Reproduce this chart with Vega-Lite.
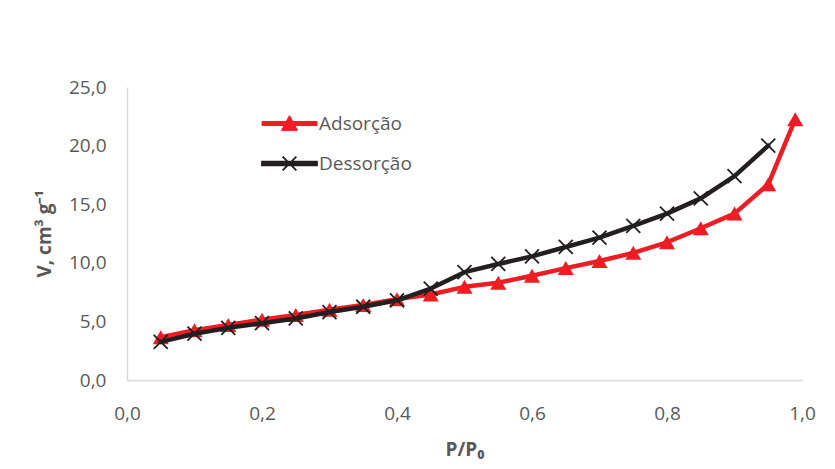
{
  "$schema": "https://vega.github.io/schema/vega-lite/v6.json",
  "width": 675,
  "height": 293,
  "autosize": {"type": "none"},
  "padding": {"left": 127, "top": 87, "right": 33, "bottom": 89},
  "background": "white",
  "config": {
    "view": {"stroke": null},
    "font": "Open Sans"
  },
  "data": {
    "values": [
      {"P": 0.05, "V": 3.65, "serie": "Adsorção"},
      {"P": 0.10, "V": 4.25, "serie": "Adsorção"},
      {"P": 0.15, "V": 4.7, "serie": "Adsorção"},
      {"P": 0.20, "V": 5.15, "serie": "Adsorção"},
      {"P": 0.25, "V": 5.55, "serie": "Adsorção"},
      {"P": 0.30, "V": 6.0, "serie": "Adsorção"},
      {"P": 0.35, "V": 6.4, "serie": "Adsorção"},
      {"P": 0.40, "V": 6.9, "serie": "Adsorção"},
      {"P": 0.45, "V": 7.3, "serie": "Adsorção"},
      {"P": 0.50, "V": 7.95, "serie": "Adsorção"},
      {"P": 0.55, "V": 8.3, "serie": "Adsorção"},
      {"P": 0.60, "V": 8.9, "serie": "Adsorção"},
      {"P": 0.65, "V": 9.55, "serie": "Adsorção"},
      {"P": 0.70, "V": 10.15, "serie": "Adsorção"},
      {"P": 0.75, "V": 10.85, "serie": "Adsorção"},
      {"P": 0.80, "V": 11.75, "serie": "Adsorção"},
      {"P": 0.85, "V": 12.95, "serie": "Adsorção"},
      {"P": 0.90, "V": 14.2, "serie": "Adsorção"},
      {"P": 0.95, "V": 16.7, "serie": "Adsorção"},
      {"P": 0.99, "V": 22.25, "serie": "Adsorção"},
      {"P": 0.05, "V": 3.25, "serie": "Dessorção"},
      {"P": 0.10, "V": 3.95, "serie": "Dessorção"},
      {"P": 0.15, "V": 4.45, "serie": "Dessorção"},
      {"P": 0.20, "V": 4.85, "serie": "Dessorção"},
      {"P": 0.25, "V": 5.25, "serie": "Dessorção"},
      {"P": 0.30, "V": 5.8, "serie": "Dessorção"},
      {"P": 0.35, "V": 6.25, "serie": "Dessorção"},
      {"P": 0.40, "V": 6.8, "serie": "Dessorção"},
      {"P": 0.45, "V": 7.8, "serie": "Dessorção"},
      {"P": 0.50, "V": 9.2, "serie": "Dessorção"},
      {"P": 0.55, "V": 9.9, "serie": "Dessorção"},
      {"P": 0.60, "V": 10.55, "serie": "Dessorção"},
      {"P": 0.65, "V": 11.35, "serie": "Dessorção"},
      {"P": 0.70, "V": 12.15, "serie": "Dessorção"},
      {"P": 0.75, "V": 13.15, "serie": "Dessorção"},
      {"P": 0.80, "V": 14.2, "serie": "Dessorção"},
      {"P": 0.85, "V": 15.5, "serie": "Dessorção"},
      {"P": 0.90, "V": 17.4, "serie": "Dessorção"},
      {"P": 0.95, "V": 20.0, "serie": "Dessorção"}
    ]
  },
  "encoding": {
    "x": {
      "field": "P",
      "type": "quantitative",
      "scale": {"domain": [0, 1], "nice": false, "zero": false},
      "axis": {
        "title": "P/P₀",
        "values": [0, 0.2, 0.4, 0.6, 0.8, 1.0],
        "labelExpr": "replace(format(datum.value, '.1f'), '.', ',')",
        "grid": false,
        "ticks": false,
        "tickSize": 0,
        "domainColor": "#D9D9D9",
        "domainWidth": 1.5,
        "labelFont": "Open Sans",
        "labelFontSize": 19,
        "labelColor": "#595959",
        "labelPadding": 24,
        "labelFlush": false,
        "labelOverlap": false,
        "titleFont": "Open Sans",
        "titleFontSize": 19,
        "titleFontWeight": "bold",
        "titleColor": "#595959",
        "titlePadding": 17
      }
    },
    "y": {
      "field": "V",
      "type": "quantitative",
      "scale": {"domain": [0, 25], "nice": false},
      "axis": {
        "title": "V, cm³ g⁻¹",
        "values": [0, 5, 10, 15, 20, 25],
        "labelExpr": "replace(format(datum.value, '.1f'), '.', ',')",
        "grid": false,
        "ticks": false,
        "tickSize": 0,
        "domainColor": "#D9D9D9",
        "domainWidth": 1.5,
        "labelFont": "Open Sans",
        "labelFontSize": 19,
        "labelColor": "#595959",
        "labelPadding": 21,
        "labelFlush": false,
        "labelOverlap": false,
        "titleFont": "Open Sans",
        "titleFontSize": 19,
        "titleFontWeight": "bold",
        "titleColor": "#595959",
        "titlePadding": 14
      }
    }
  },
  "layer": [
    {
      "transform": [{"filter": "datum.serie === 'Adsorção'"}],
      "mark": {"type": "line", "strokeWidth": 4.5, "strokeJoin": "round", "strokeCap": "round"},
      "encoding": {
        "color": {
          "field": "serie",
          "type": "nominal",
          "scale": {"domain": ["Adsorção", "Dessorção"], "range": ["#EE1D23", "#231F20"]},
          "legend": {
            "orient": "none",
            "legendX": 153,
            "legendY": 27,
            "title": null,
            "padding": 0,
            "labelFont": "Open Sans",
            "labelFontSize": 19,
            "labelColor": "#595959",
            "labelOffset": 20,
            "rowPadding": 19,
            "symbolSize": 756,
            "symbolStrokeWidth": 1.5,
            "encode": {
              "symbols": {
                "update": {
                  "shape": {"signal": "datum.value === 'Adsorção' ? 'M-2,-0.15H2V0.15H-2Z M0,-0.58L0.58,0.5L-0.58,0.5Z' : 'M-2,-0.13H2V0.13H-2Z M-0.5,-0.5L0.5,0.5 M-0.5,0.5L0.5,-0.5'"},
                  "fill": {"signal": "scale('color', datum.value)"},
                  "stroke": {"signal": "scale('color', datum.value)"},
                  "strokeWidth": {"signal": "datum.value === 'Adsorção' ? 1 : 1.8"},
                  "opacity": {"value": 1}
                }
              }
            }
          }
        }
      }
    },
    {
      "transform": [{"filter": "datum.serie === 'Adsorção'"}],
      "mark": {"type": "point", "shape": "M0,-1L1.15,1L-1.15,1Z", "size": 196, "filled": true, "color": "#EE1D23", "opacity": 1}
    },
    {
      "transform": [{"filter": "datum.serie === 'Dessorção'"}],
      "mark": {"type": "line", "strokeWidth": 4.5, "strokeJoin": "round", "strokeCap": "round"},
      "encoding": {
        "color": {
          "field": "serie",
          "type": "nominal",
          "scale": {"domain": ["Adsorção", "Dessorção"], "range": ["#EE1D23", "#231F20"]}
        }
      }
    },
    {
      "transform": [{"filter": "datum.serie === 'Dessorção'"}],
      "mark": {"type": "point", "shape": "M-1,-1L1,1M-1,1L1,-1", "size": 196, "filled": false, "stroke": "#231F20", "strokeWidth": 1.8, "opacity": 1}
    }
  ]
}
